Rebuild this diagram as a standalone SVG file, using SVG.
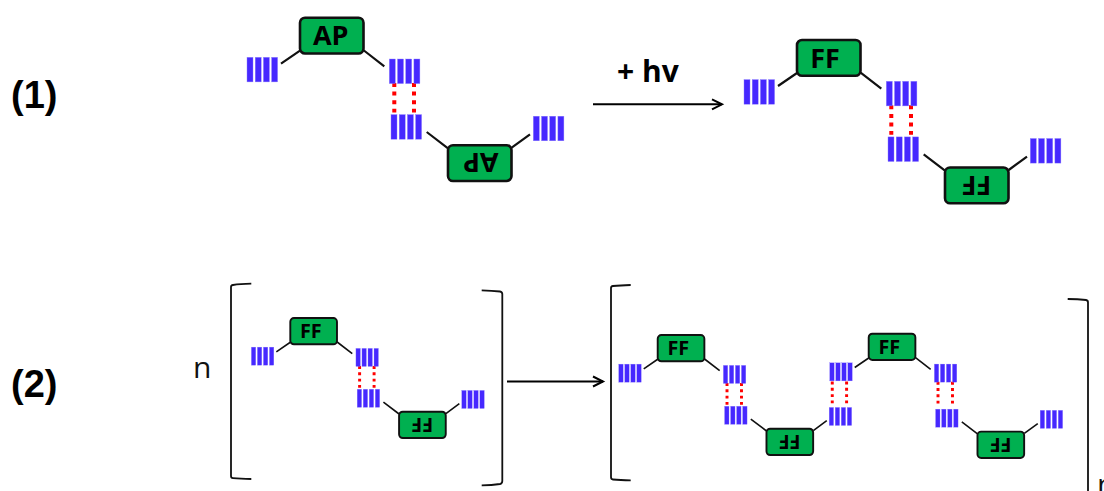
<svg xmlns="http://www.w3.org/2000/svg" width="1104" height="491" viewBox="0 0 1104 491">
<style>
.box{fill:#00B050;stroke:#111;stroke-width:2.6}
.lbl{font-family:"Open Sans",sans-serif;font-weight:700;font-size:27px;fill:#000;text-anchor:middle}
.num{font-family:"Liberation Sans",Arial,sans-serif;font-weight:700;font-size:38px;fill:#000}
.n{font-family:"Open Sans",sans-serif;font-size:30px;fill:#111}
.hv{font-family:"Open Sans",sans-serif;font-weight:700;font-size:30px;fill:#000}
.arm{fill:none;stroke:#111;stroke-width:2.2}
.bond{fill:none;stroke:#FF0000;stroke-width:4;stroke-dasharray:4 4.6}
.brk{fill:none;stroke:#111;stroke-width:1.8;stroke-linejoin:round}
.arr{fill:none;stroke:#000;stroke-width:2}
.bar{fill:#4628FF;stroke:#8F80FF;stroke-width:.4}
</style>
<defs>
<g id="stack"><rect class="bar" width="6" height="24.6"/><rect class="bar" x="8.2" width="6" height="24.6"/><rect class="bar" x="16.4" width="6" height="24.6"/><rect class="bar" x="24.6" width="6" height="24.6"/></g>
<path id="armU" class="arm" d="M281,63.7L300,50.7M363.3,50L384.3,66.3"/>
<path id="armL" class="arm" d="M426.7,132L448,148.3M511.7,147.7L530,134.3"/>
<path id="bond" class="bond" d="M394.3,83V112.5M414,83V112.5"/>
<rect id="boxshape" class="box" width="63.5" height="35.8" rx="5"/>
<marker id="head" markerUnits="userSpaceOnUse" markerWidth="14" markerHeight="14" refX="11" refY="7" orient="auto"><path d="M1,2L11,7L1,12" fill="none" stroke="#000" stroke-width="2"/></marker>
</defs>

<g id="connectors">
<use href="#armU"/><use href="#armL"/>
<use href="#armU" transform="translate(497,22.3)"/><use href="#armL" transform="translate(497,22.3)"/>
<use href="#armU" transform="translate(69.8,305) scale(.735)"/><use href="#armL" transform="translate(69.8,305) scale(.735)"/>
<use href="#armU" transform="translate(437.2,322) scale(.735)"/><use href="#armL" transform="translate(437.2,322) scale(.735)"/>
<use href="#armU" transform="translate(648.2,320.7) scale(.735)"/><use href="#armL" transform="translate(648.2,324.9) scale(.735)"/>
<use href="#bond"/>
<use href="#bond" transform="translate(497,22.3)"/>
<use href="#bond" transform="translate(69.8,305) scale(.735)"/>
<use href="#bond" transform="translate(437.2,322) scale(.735)"/>
<use href="#bond" transform="translate(648.2,320.7) scale(.735)"/>
<path class="bond" transform="translate(437.2,320.5) scale(.735)" d="M537.5,83V112.5M557,83V112.5"/>
<path id="arrow1" class="arr" marker-end="url(#head)" d="M593,104.3H722"/>
<path id="arrow2" class="arr" marker-end="url(#head)" d="M507,381.5H603"/>
</g>

<g id="row1-left">
<use href="#stack" x="247" y="57.3"/><use href="#stack" x="389.3" y="59"/><use href="#stack" x="391" y="114.6"/><use href="#stack" x="533.3" y="116.2"/>
<g id="node-ap1" transform="translate(300,17.7)"><use href="#boxshape"/><text class="lbl" x="30.7" y="27.6">AP</text></g>
<g id="node-ap2" transform="translate(511.5,181) rotate(180)"><use href="#boxshape"/><text class="lbl" x="30.7" y="27.6">AP</text></g>
</g>

<g id="row1-right" transform="translate(497,22.3)">
<use href="#stack" x="247" y="57.3"/><use href="#stack" x="389.3" y="59"/><use href="#stack" x="391" y="114.6"/><use href="#stack" x="533.3" y="116.2"/>
<g id="node-ff1" transform="translate(300,17.7)"><use href="#boxshape"/><text class="lbl" x="28" y="27.6">FF</text></g>
<g id="node-ff2" transform="translate(511.5,181) rotate(180)"><use href="#boxshape"/><text class="lbl" x="32" y="27.6">FF</text></g>
</g>

<g id="row2-monomer" transform="translate(69.8,305) scale(.735)">
<use href="#stack" x="247" y="57.3"/><use href="#stack" x="389.3" y="59"/><use href="#stack" x="391" y="114.6"/><use href="#stack" x="533.3" y="116.2"/>
<g id="node-ff3" transform="translate(300,17.7)"><use href="#boxshape"/><text class="lbl" x="28" y="27.6">FF</text></g>
<g id="node-ff4" transform="translate(511.5,181) rotate(180)"><use href="#boxshape"/><text class="lbl" x="32" y="27.6">FF</text></g>
</g>

<g id="row2-polymer-a" transform="translate(437.2,322) scale(.735)">
<use href="#stack" x="247" y="57.3"/><use href="#stack" x="389.3" y="59"/><use href="#stack" x="391" y="114.6"/><use href="#stack" x="533.3" y="116.2"/>
<g id="node-ff5" transform="translate(300,17.7)"><use href="#boxshape"/><text class="lbl" x="28" y="27.6">FF</text></g>
<g id="node-ff6" transform="translate(511.5,181) rotate(180)"><use href="#boxshape"/><text class="lbl" x="32" y="27.6">FF</text></g>
</g>
<g id="row2-polymer-b" transform="translate(648.2,320.7) scale(.735)">
<use href="#stack" x="247" y="57.3"/><use href="#stack" x="389.3" y="59"/>
<g id="node-ff7" transform="translate(300,17.7)"><use href="#boxshape"/><text class="lbl" x="28" y="27.6">FF</text></g>
</g>
<g id="row2-polymer-c" transform="translate(648.2,324.9) scale(.735)">
<use href="#stack" x="391" y="114.6"/><use href="#stack" x="533.3" y="116.2"/>
<g id="node-ff8" transform="translate(511.5,181) rotate(180)"><use href="#boxshape"/><text class="lbl" x="32" y="27.6">FF</text></g>
</g>

<g id="brackets">
<path class="brk" d="M251.3,283.7Q240,284 233,285Q231,285.3 231,287V476Q231,478 233,478.2Q240,479 251.3,479"/>
<path class="brk" d="M481.7,290.3Q492,290.5 500,291.5Q502.3,292 502.3,294V481Q502.3,483.5 500,484Q492,485.3 481.7,485.3"/>
<path class="brk" d="M630.7,285Q620,285.2 613,286Q611,286.3 611,288V477Q611,479.3 613,479.5Q620,480.3 630.7,480.3"/>
<path class="brk" d="M1067.7,299Q1078,299.2 1086,300Q1088,300.4 1088,302.5V491"/>
</g>

<text class="hv" x="617" y="82.3">+ hv</text>
<text class="num" x="11" y="108">(1)</text>
<text class="num" x="11" y="397">(2)</text>
<text class="n" x="193" y="378">n</text>
<text class="n" x="1097" y="495">n</text>
</svg>
